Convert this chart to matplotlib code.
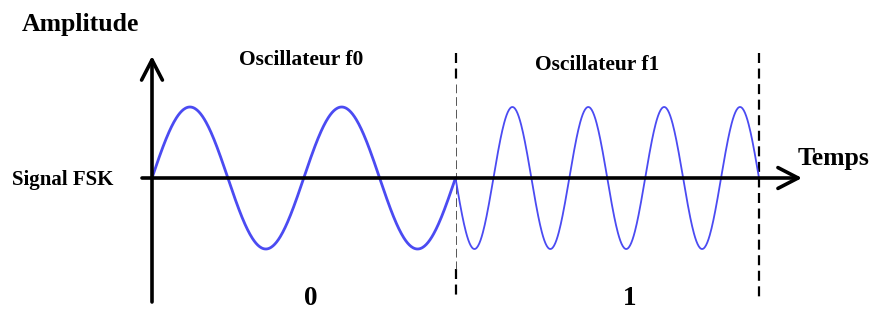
"""FSK signal sketch: two oscillators (f0 for bit 0, f1 for bit 1) on a time axis."""
import numpy as np
import matplotlib
matplotlib.use("Agg")
import matplotlib.pyplot as plt
from matplotlib.patches import FancyArrowPatch

# --- data -----------------------------------------------------------------
BITS = ["0", "1"]
OSC_LABELS = ["Oscillateur f0", "Oscillateur f1"]
CYCLES_PER_BIT = [2, 4]        # f1 = 2 * f0
PHASE_SIGN = [1, -1]           # second burst starts downwards
AMPLITUDE = 1.0
LINE_WIDTHS = [2.0, 1.3]

# --- layout (pixels of the 876x311 picture) --------------------------------
W, H, DPI = 876, 311, 100
X0, Y0 = 152, 178              # origin of the axes
BIT_PX, AMP_PX = 303.5, 71.0   # one bit, one amplitude unit
BLUE = "#4b4bf2"
FONT = ["Liberation Serif", "DejaVu Serif"]


def at(xp, yp):
    """pixel position -> (time in bits, amplitude)"""
    return (xp - X0) / BIT_PX, (Y0 - yp) / AMP_PX


fig = plt.figure(figsize=(W / DPI, H / DPI), dpi=DPI)
ax = fig.add_axes([0, 0, 1, 1])
ax.set_xlim(-X0 / BIT_PX, (W - X0) / BIT_PX)
ax.set_ylim(-(H - Y0) / AMP_PX, Y0 / AMP_PX)
ax.axis("off")

# waveform, one burst per bit
for i, (cyc, sign, lw) in enumerate(zip(CYCLES_PER_BIT, PHASE_SIGN, LINE_WIDTHS)):
    t = np.linspace(0, 1, 500)
    ax.plot(i + t, sign * AMPLITUDE * np.sin(2 * np.pi * cyc * t),
            color=BLUE, lw=lw, solid_capstyle="round", zorder=3)

# bit boundaries
y_top, y_bot = at(0, 53)[1], at(0, 300)[1]
y_a, y_b = at(0, 84)[1], at(0, 269)[1]
ax.plot([1, 1], [y_top, y_a], color="black", lw=1.6, ls=(0, (4.5, 2.5)))
ax.plot([1, 1], [y_b, y_bot], color="black", lw=1.6, ls=(0, (4.5, 2.5)))
ax.plot([1, 1], [y_a, y_b], color="#555555", lw=0.7, ls=(0, (9, 4)))
ax.plot([2, 2], [y_top, y_bot], color="black", lw=1.6, ls=(0, (4.5, 2.5)))

# axes with open arrow heads
arrow_kw = dict(arrowstyle="->,head_length=1.45,head_width=0.75",
                mutation_scale=10, lw=2.6, color="black",
                shrinkA=0, shrinkB=0, zorder=4)
ax.add_patch(FancyArrowPatch(at(X0, 302), at(X0, 56), **arrow_kw))
ax.add_patch(FancyArrowPatch(at(142, Y0), at(802, Y0), **arrow_kw))

# labels
txt = dict(family=FONT, weight="bold", color="black", va="baseline")
ax.text(*at(22, 31), "Amplitude", fontsize=18.5, ha="left", **txt)
ax.text(*at(798, 165), "Temps", fontsize=18.5, ha="left", **txt)
ax.text(*at(12, 185), "Signal FSK", fontsize=15, ha="left", **txt)
for label, (xp, yp) in zip(OSC_LABELS, [(239, 65), (535, 70)]):
    ax.text(*at(xp, yp), label, fontsize=15.5, ha="left", **txt)
for bit, xp in zip(BITS, [310.5, 630]):
    ax.text(*at(xp, 305), bit, fontsize=19.5, ha="center", **txt)

fig.savefig("out.png", dpi=DPI)
